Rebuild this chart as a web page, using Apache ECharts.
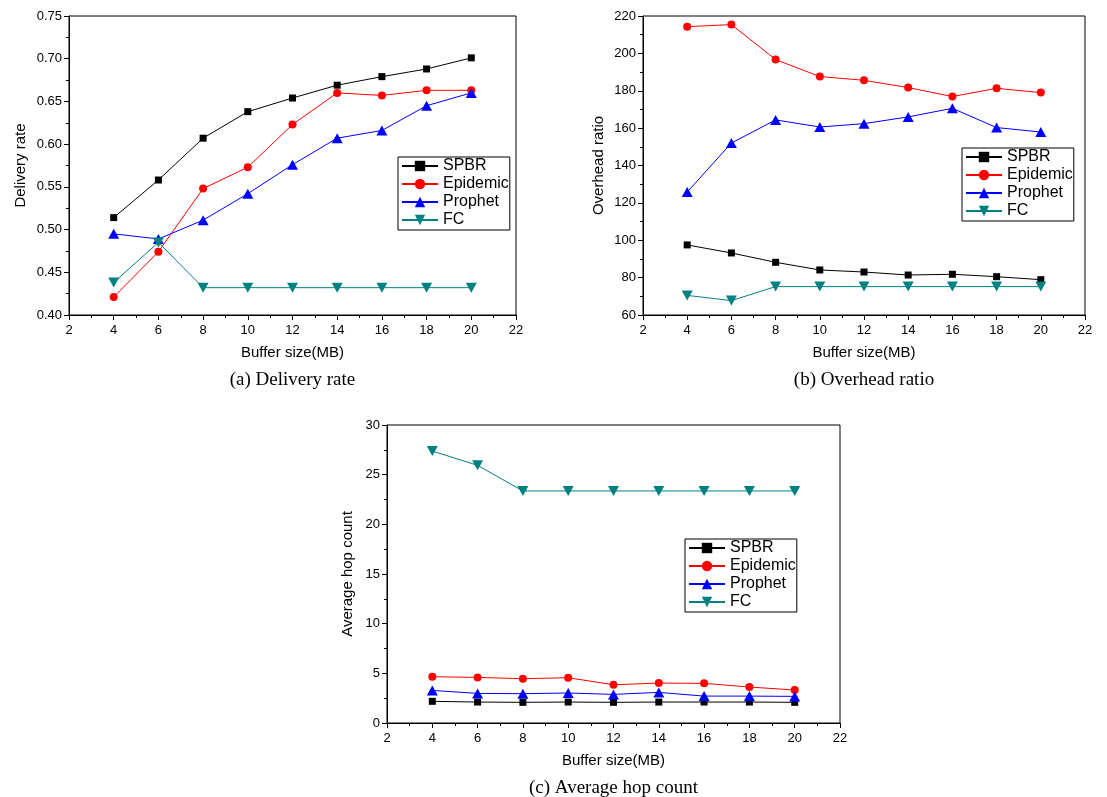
<!DOCTYPE html>
<html>
<head>
<meta charset="utf-8">
<script src="https://cdn.jsdelivr.net/npm/echarts@6/dist/echarts.min.js"></script>
<style>
  html, body { margin: 0; padding: 0; background: #fff; }
  #chart { width: 1107px; height: 797px; }
</style>
</head>
<body>
<div id="chart"></div>
<script>
// Buffer sizes (MB) shared by all three panels
const bufferSizes = [4, 6, 8, 10, 12, 14, 16, 18, 20];
const seriesNames = ['SPBR', 'Epidemic', 'Prophet', 'FC'];

// (a) Delivery rate
const deliverySPBR     = [0.514, 0.558, 0.607, 0.638, 0.654, 0.669, 0.679, 0.688, 0.701];
const deliveryEpidemic = [0.421, 0.474, 0.548, 0.573, 0.623, 0.660, 0.657, 0.663, 0.663];
const deliveryProphet  = [0.495, 0.489, 0.511, 0.542, 0.576, 0.607, 0.616, 0.645, 0.660];
const deliveryFC       = [0.438, 0.485, 0.432, 0.432, 0.432, 0.432, 0.432, 0.432, 0.432];

// (b) Overhead ratio
const overheadSPBR     = [97.5, 93.2, 88.2, 84.1, 83.0, 81.4, 81.8, 80.5, 78.9];
const overheadEpidemic = [214.3, 215.4, 196.7, 187.6, 185.6, 181.7, 176.9, 181.3, 179.0];
const overheadProphet  = [125.8, 152.0, 164.4, 160.6, 162.4, 166.0, 170.6, 160.3, 157.9];
const overheadFC       = [70.5, 67.7, 75.2, 75.2, 75.2, 75.2, 75.2, 75.2, 75.2];

// (c) Average hop count
const hopSPBR     = [2.18, 2.11, 2.08, 2.11, 2.08, 2.11, 2.11, 2.11, 2.08];
const hopEpidemic = [4.66, 4.59, 4.46, 4.56, 3.85, 4.02, 3.99, 3.62, 3.32];
const hopProphet  = [3.28, 2.98, 2.95, 3.02, 2.88, 3.08, 2.71, 2.71, 2.68];
const hopFC       = [27.38, 25.94, 23.36, 23.36, 23.36, 23.36, 23.36, 23.36, 23.36];

const captions = ['(a) Delivery rate', '(b) Overhead ratio', '(c) Average hop count'];
const yTitles = ['Delivery rate', 'Overhead ratio', 'Average hop count'];
const xTitle = 'Buffer size(MB)';

const SANS = '"Liberation Sans", Arial, sans-serif';
const SERIF = '"Liberation Serif", "Times New Roman", serif';

const styles = {
  SPBR:     { color: '#000000', symbol: 'rect', symbolSize: 7 },
  Epidemic: { color: '#ff0000', symbol: 'circle', symbolSize: 8 },
  Prophet:  { color: '#0000ff', symbol: 'triangle', symbolSize: [11, 10] },
  FC:       { color: '#008080', symbol: 'path://M0,0L10,0L5,9Z', symbolSize: [11, 10] }
};

const panels = [
  { grid: { left: 69, top: 16, width: 447, height: 299 }, ymin: 0.40, ymax: 0.75, step: 0.05, dec: 2, gap: 41,
    data: [deliverySPBR, deliveryEpidemic, deliveryProphet, deliveryFC], legend: [398, 157] },
  { grid: { left: 643, top: 16, width: 442, height: 299 }, ymin: 60, ymax: 220, step: 20, dec: 0, gap: 37,
    data: [overheadSPBR, overheadEpidemic, overheadProphet, overheadFC], legend: [962, 148] },
  { grid: { left: 387, top: 425, width: 453, height: 298 }, ymin: 0, ymax: 30, step: 5, dec: 0, gap: 32,
    data: [hopSPBR, hopEpidemic, hopProphet, hopFC], legend: [685, 539] }
];

const axisCommon = {
  axisLine: { show: true, onZero: false, lineStyle: { color: '#000', width: 1 } },
  axisTick: { show: true, inside: false, length: 5, lineStyle: { color: '#000' } },
  minorTick: { show: true, splitNumber: 2, length: 3, lineStyle: { color: '#000' } },
  splitLine: { show: false },
  minorSplitLine: { show: false },
  axisLabel: { color: '#000', fontFamily: SANS, fontSize: 13, margin: 7 },
  nameTextStyle: { color: '#000', fontFamily: SANS, fontSize: 15 }
};

const option = {
  animation: false,
  backgroundColor: '#fff',
  grid: panels.map(p => Object.assign({ show: true, borderColor: '#000', borderWidth: 1, backgroundColor: 'transparent' }, p.grid)),
  xAxis: panels.map((p, i) => Object.assign({}, axisCommon, {
    type: 'value', gridIndex: i, min: 2, max: 22, interval: 2,
    name: xTitle, nameLocation: 'middle', nameGap: 30,
    axisLabel: Object.assign({}, axisCommon.axisLabel, { margin: 9 })
  })),
  yAxis: panels.map((p, i) => Object.assign({}, axisCommon, {
    type: 'value', gridIndex: i, min: p.ymin, max: p.ymax, interval: p.step,
    name: yTitles[i], nameLocation: 'middle', nameGap: p.gap,
    axisLabel: Object.assign({}, axisCommon.axisLabel, { formatter: v => v.toFixed(p.dec) })
  })),
  legend: panels.map(p => ({
    orient: 'vertical', left: p.legend[0], top: p.legend[1],
    data: seriesNames,
    selectedMode: false,
    borderColor: '#000', borderWidth: 1,
    padding: [1, 1, 2, 3],
    itemWidth: 36, itemHeight: 13, itemGap: 2,
    textStyle: { color: '#000', fontFamily: SANS, fontSize: 16, lineHeight: 16 }
  })),
  series: [],
  graphic: panels.map((p, i) => ({
    type: 'text',
    x: p.grid.left + p.grid.width / 2,
    y: p.grid.top + p.grid.height + 65,
    style: {
      text: captions[i], fontFamily: SERIF, fontSize: 19, fill: '#000',
      textAlign: 'center', textVerticalAlign: 'middle'
    }
  }))
};

panels.forEach((p, i) => {
  seriesNames.forEach((name, k) => {
    const s = styles[name];
    option.series.push({
      name: name, type: 'line', xAxisIndex: i, yAxisIndex: i,
      data: bufferSizes.map((x, j) => [x, p.data[k][j]]),
      symbol: s.symbol, symbolSize: s.symbolSize, showAllSymbol: true,
      color: s.color,
      itemStyle: { color: s.color },
      lineStyle: { color: s.color, width: 1 },
      z: 2 + k
    });
  });
});

const chart = echarts.init(document.getElementById('chart'), null, { renderer: 'canvas' });
chart.setOption(option);
</script>
</body>
</html>
